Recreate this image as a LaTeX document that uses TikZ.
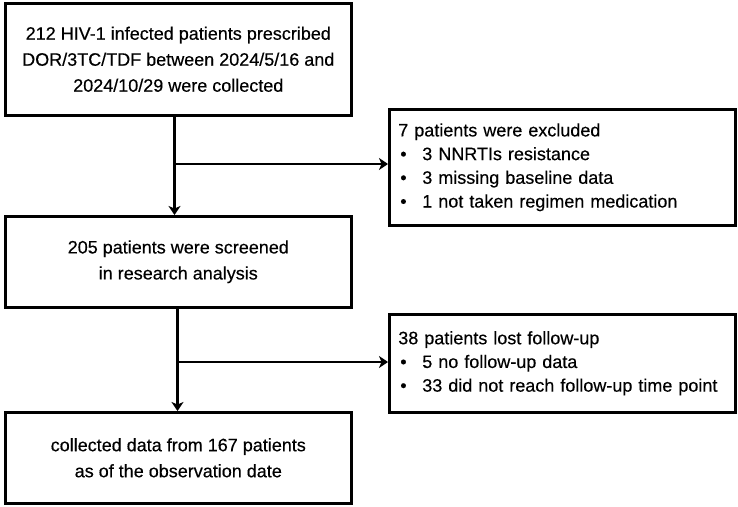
\documentclass[tikz,border=0pt]{standalone}
\usepackage{fontspec}
\setmainfont{Liberation Sans}[BoldFont={Liberation Sans},BoldFeatures={FakeBold=0.35}]
\usetikzlibrary{arrows.meta,calc}
\begin{document}
\begin{tikzpicture}[x=1pt,y=1pt,
  mainbox/.style={draw, line width=2.6pt, align=center, inner sep=0pt,
    minimum width=346pt, anchor=north west,
    font=\fontsize{18pt}{26pt}\selectfont\bfseries},
  sidebox/.style={draw, line width=2.6pt, align=left, inner xsep=9pt, inner ysep=0pt,
    text width=328pt, anchor=north west,
    font=\fontsize{18pt}{23.7pt}\selectfont\bfseries},
  arr/.style={line width=2.3pt, -{Stealth[length=9pt,width=12pt,inset=2.5pt]}}]
\useasboundingbox (0,0) rectangle (738,-506);
\fill[white] (0,0) rectangle (738,-506);
\newcommand{\bul}{\hspace*{2pt}\makebox[22pt][l]{•}}
\node[mainbox, minimum height=112pt] (b1) at (4,-2)
  {212 HIV-1 infected patients prescribed\\DOR/3TC/TDF between 2024/5/16 and\\2024/10/29 were collected};
\node[mainbox, minimum height=91pt] (b2) at (4,-215)
  {205 patients were screened\\in research analysis};
\node[mainbox, minimum height=91pt] (b3) at (4,-411)
  {collected data from 167 patients\\as of the observation date};
\node[sidebox, minimum height=116pt] (e1) at (388,-108)
  {7 patients were excluded\\\bul 3 NNRTIs resistance\\\bul 3 missing baseline data\\\bul 1 not taken regimen medication};
\node[sidebox, minimum height=98pt] (e2) at (388,-313)
  {38 patients lost follow-up\\\bul 5 no follow-up data\\\bul 33 did not reach follow-up time point};
\coordinate (j1) at (174.5,-164);
\coordinate (j2) at (177.5,-362);
\draw[arr] (b1.south -| j1) -- (b2.north -| j1);
\draw[arr] (j1) -- (e1.west |- j1);
\draw[arr] (b2.south -| j2) -- (b3.north -| j2);
\draw[arr] (j2) -- (e2.west |- j2);
\end{tikzpicture}
\end{document}
